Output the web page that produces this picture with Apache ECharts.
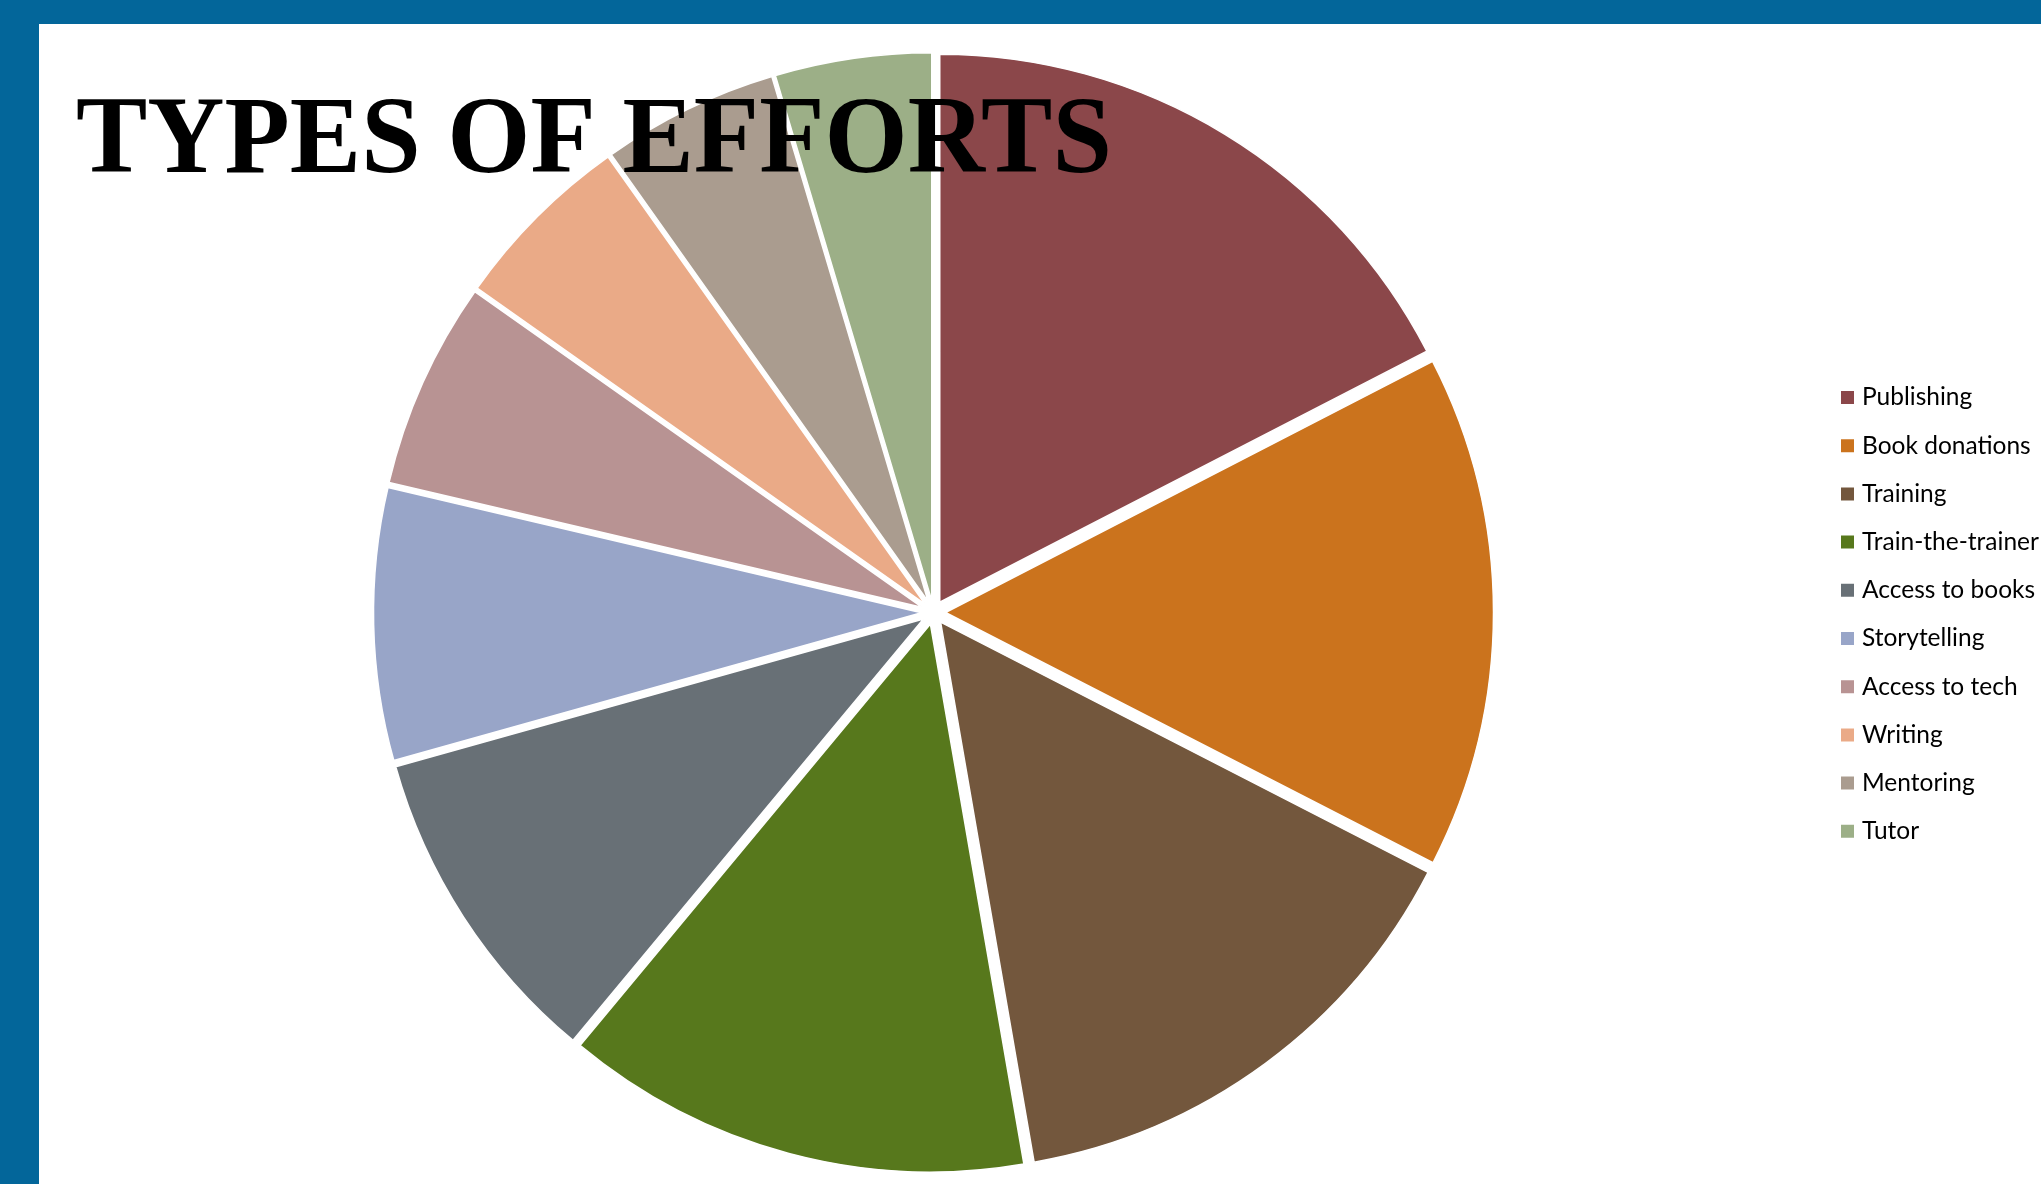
<!DOCTYPE html>
<html>
<head>
<meta charset="utf-8">
<script src="https://cdn.jsdelivr.net/npm/echarts@6/dist/echarts.min.js"></script>
<style>
  html, body { margin: 0; padding: 0; background: #fff; }
  #chart { width: 2041px; height: 1184px; }
</style>
</head>
<body>
<div id="chart"></div>
<script>
const titleText = 'TYPES OF EFFORTS';
const categories = ['Publishing', 'Book donations', 'Training', 'Train-the-trainer', 'Access to books', 'Storytelling', 'Access to tech', 'Writing', 'Mentoring', 'Tutor'];
const values = [17.4, 15.1, 14.7, 13.75, 9.6, 8.0, 6.1, 5.4, 5.2, 4.6];
const colors = ['#8B474A', '#CB731D', '#73573D', '#57781C', '#687076', '#98A5C8', '#B89393', '#EAAA87', '#AA9C8F', '#9CAF87'];

const chart = echarts.init(document.getElementById('chart'), null, { renderer: 'canvas' });
chart.setOption({
  animation: false,
  backgroundColor: '#ffffff',
  graphic: [
    { type: 'rect', shape: { x: 0, y: 0, width: 2041, height: 24 }, style: { fill: '#03669A' }, z: 100 },
    { type: 'rect', shape: { x: 0, y: 0, width: 39, height: 1184 }, style: { fill: '#03669A' }, z: 100 },
    { type: 'text', x: 76, y: 89, scaleX: 0.972, z: 100,
      style: { text: titleText, fill: '#000', font: 'bold 110px "Liberation Serif", "Times New Roman", serif' } }
  ],
  legend: {
    orient: 'vertical',
    left: 1839,
    top: 385,
    padding: 0,
    itemWidth: 15,
    itemHeight: 15,
    itemGap: 23.2,
    icon: 'rect',
    selectedMode: false,
    textStyle: { fontSize: 24.5, lineHeight: 15, color: '#000', fontFamily: 'Lato', padding: [0, 0, 0, 2] },
    data: categories
  },
  series: [{
    type: 'pie',
    center: [933.5, 612.5],
    radius: [0, 548],
    startAngle: 90,
    clockwise: true,
    selectedMode: 'multiple',
    selectedOffset: 12,
    label: { show: false },
    labelLine: { show: false },
    emphasis: { disabled: true, scale: false },
    itemStyle: { borderColor: '#fff', borderWidth: 1.5 },
    select: { itemStyle: { borderColor: '#fff', borderWidth: 1.5 } },
    data: categories.map((c, i) => ({ name: c, value: values[i], selected: true, itemStyle: { color: colors[i] }, select: { itemStyle: { color: colors[i], borderColor: '#fff', borderWidth: 1.5 } } }))
  }]
});
</script>
</body>
</html>
